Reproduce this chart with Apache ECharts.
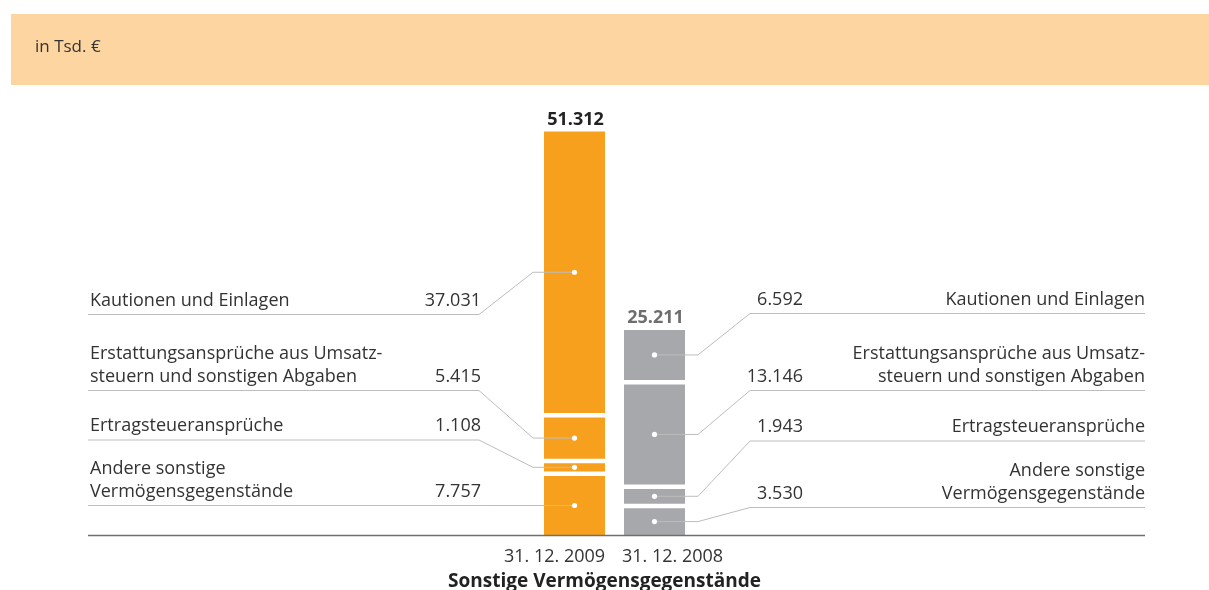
<!DOCTYPE html>
<html>
<head>
<meta charset="utf-8">
<script src="https://cdn.jsdelivr.net/npm/echarts@6/dist/echarts.min.js"></script>
<style>
  html, body { margin: 0; padding: 0; background: #fff; }
  #chart { width: 1209px; height: 590px; }
</style>
</head>
<body>
<div id="chart"></div>
<script>
// Balance-sheet dates (x categories)
const categories = ['31. 12. 2009', '31. 12. 2008'];
// Stack components, bottom to top
const components = [
  'Andere sonstige\nVermögensgegenstände',
  'Ertragsteueransprüche',
  'Erstattungsansprüche aus Umsatz-\nsteuern und sonstigen Abgaben',
  'Kautionen und Einlagen'
];
// Values in Tsd. €, same order as components
const values2009 = [7757, 1108, 5415, 37031];
const values2008 = [3530, 1943, 13146, 6592];
// Reported totals
const totals = [51312, 25211];

const FONT = '"Open Sans", "Noto Sans", sans-serif';
const FS = 18;
const TEXT = '#333333';
const LINE = '#bdbdbd';
const COLORS = ['#f7a01e', '#a7a8ac'];
const TOTAL_COLORS = ['#222222', '#6e6e6e'];
const GAP = 4.5;        // white space between stacked segments (px)
const BAR_W = 61;
// Label row lines (px), bottom-to-top component order
const ROWS_LEFT = [505.5, 440, 390.5, 314.5];
const ROWS_RIGHT = [507.5, 441, 390.5, 313.5];

function fmt(v) {
  return String(Math.round(v)).replace(/\B(?=(\d{3})+(?!\d))/g, '.');
}

// Build stack rows: [category, start, end, segment, value]
const seriesData = [];
[values2009, values2008].forEach(function (vals, c) {
  let cum = 0;
  vals.forEach(function (v, i) {
    seriesData.push([c, cum, cum + v, i, v]);
    cum += v;
  });
});

function renderItem(params, api) {
  const c = api.value(0);
  const seg = api.value(3);
  const v = api.value(4);
  const p0 = api.coord([c, api.value(1)]);
  const p1 = api.coord([c, api.value(2)]);
  const cx = p0[0];
  const yb = p0[1] - seg * GAP;
  const yt = p1[1] - seg * GAP;
  const cy = (yb + yt) / 2;
  const children = [];

  children.push({
    type: 'rect',
    shape: { x: cx - BAR_W / 2, y: yt, width: BAR_W, height: yb - yt },
    style: { fill: COLORS[c] }
  });

  let pts, nameStyle, valStyle;
  if (c === 0) {
    const row = ROWS_LEFT[seg];
    pts = [[cx, cy], [533, cy], [479, row], [88, row]];
    nameStyle = { x: 90, y: row - 2.5, align: 'left' };
    valStyle = { x: 481, y: row - 2.5, align: 'right' };
  } else {
    const row = ROWS_RIGHT[seg];
    pts = [[cx, cy], [698, cy], [750, row], [1145, row]];
    nameStyle = { x: 1145, y: row - 2.5, align: 'right' };
    valStyle = { x: 803, y: row - 2.5, align: 'right' };
  }

  children.push({
    type: 'polyline',
    shape: { points: pts },
    style: { stroke: LINE, lineWidth: 1, fill: null },
    z2: 5
  });
  children.push({
    type: 'circle',
    shape: { cx: cx, cy: cy, r: 2.6 },
    style: { fill: '#ffffff' },
    z2: 6
  });
  children.push({
    type: 'text',
    style: {
      text: components[seg], x: nameStyle.x, y: nameStyle.y,
      align: nameStyle.align, verticalAlign: 'bottom',
      font: FS + 'px ' + FONT, lineHeight: 23, fill: TEXT
    }
  });
  children.push({
    type: 'text',
    style: {
      text: fmt(v), x: valStyle.x, y: valStyle.y,
      align: valStyle.align, verticalAlign: 'bottom',
      font: FS + 'px ' + FONT, lineHeight: 23, fill: TEXT
    }
  });

  if (seg === components.length - 1) {
    children.push({
      type: 'text',
      style: {
        text: fmt(totals[c]), x: cx + 1, y: yt - 3,
        align: 'center', verticalAlign: 'bottom',
        font: 'bold ' + FS + 'px ' + FONT, fill: TOTAL_COLORS[c]
      }
    });
  }

  return { type: 'group', children: children };
}

const chart = echarts.init(document.getElementById('chart'), null, { renderer: 'canvas' });
chart.setOption({
  backgroundColor: '#ffffff',
  animation: false,
  grid: {
    left: 534.5, right: 514.5, top: 117, bottom: 55,
    containLabel: false, outerBoundsMode: 'none'
  },
  xAxis: {
    type: 'category',
    data: categories,
    axisLine: { show: false },
    axisTick: { show: false },
    axisLabel: {
      interval: 0, hideOverlap: false,
      color: TEXT, fontFamily: FONT, fontSize: FS, margin: 13,
      // the two dates spread apart: first ends at its bar's right edge, second starts at its bar's left edge
      formatter: function (value, idx) {
        return (idx === 0 ? '{a|' : '{b|') + value + '}';
      },
      rich: {
        a: { color: TEXT, fontFamily: FONT, fontSize: FS, padding: [0, 40, 0, 0] },
        b: { color: TEXT, fontFamily: FONT, fontSize: FS, padding: [0, 0, 0, 36] }
      }
    },
    name: 'Sonstige Vermögensgegenstände',
    nameLocation: 'middle',
    nameGap: 37,
    nameTextStyle: {
      color: '#222222', fontFamily: FONT, fontSize: 19, fontWeight: 'bold',
      padding: [0, 20, 0, 0]
    }
  },
  yAxis: {
    type: 'value', min: 0, max: 55000, show: false
  },
  graphic: [
    {
      type: 'rect', left: 11, top: 14, silent: true,
      shape: { width: 1198, height: 71 },
      style: { fill: '#fdd5a0' }
    },
    {
      type: 'text', left: 35, top: 39, silent: true,
      style: { text: 'in Tsd. €', font: '17px ' + FONT, fill: TEXT }
    },
    {
      type: 'line', silent: true, z: 10,
      shape: { x1: 88, y1: 535.5, x2: 1145, y2: 535.5 },
      style: { stroke: '#6f6f6f', lineWidth: 1.5 }
    }
  ],
  series: [{
    type: 'custom',
    renderItem: renderItem,
    encode: { x: 0, y: [1, 2] },
    data: seriesData
  }]
});
</script>
</body>
</html>
